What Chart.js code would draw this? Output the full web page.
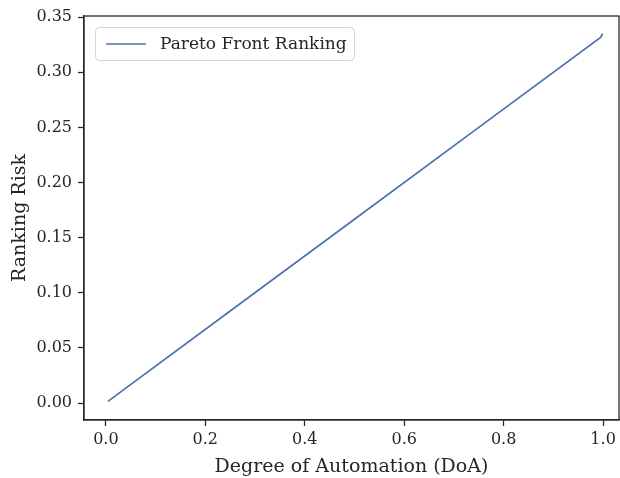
<!DOCTYPE html>
<html>
<head>
<meta charset="utf-8">
<script src="https://cdn.jsdelivr.net/npm/chart.js@4"></script>
<style>
  html, body { margin: 0; padding: 0; background: #fff; }
</style>
</head>
<body>
<canvas id="grafico" width="620" height="478"></canvas>
<script>
// dados
const doa = [0.004, 0.25, 0.5, 0.75, 0.995, 0.999];
const risco = [0.0015, 0.0835, 0.1667, 0.2500, 0.3315, 0.3350];
const xTicks = [0.0, 0.2, 0.4, 0.6, 0.8, 1.0];
const yTicks = [0.00, 0.05, 0.10, 0.15, 0.20, 0.25, 0.30, 0.35];
const nomeSerie = 'Pareto Front Ranking';

const fonte = '"DejaVu Serif", "Liberation Serif", serif';
const corEixo = '#262626';
const corLinha = '#4c72b0';

// moldura (spines de cima e da direita) + legenda
const extras = {
  id: 'extras',
  afterDraw(chart) {
    const { ctx, chartArea: a } = chart;
    ctx.save();
    ctx.strokeStyle = corEixo;
    ctx.lineWidth = 1.25;
    ctx.strokeRect(a.left, a.top, a.right - a.left, a.bottom - a.top);

    // legenda
    const lx = 95, ly = 27, lw = 259, lh = 33;
    ctx.fillStyle = 'rgba(255,255,255,0.8)';
    ctx.strokeStyle = '#d6d6d6';
    ctx.lineWidth = 1;
    ctx.beginPath();
    ctx.roundRect(lx + 0.5, ly + 0.5, lw, lh, 4);
    ctx.fill();
    ctx.stroke();
    ctx.strokeStyle = corLinha;
    ctx.lineWidth = 1.7;
    ctx.beginPath();
    ctx.moveTo(106, ly + lh / 2 + 0.5);
    ctx.lineTo(146, ly + lh / 2 + 0.5);
    ctx.stroke();
    ctx.fillStyle = corEixo;
    ctx.font = '17px ' + fonte;
    ctx.textBaseline = 'middle';
    ctx.fillText(chart.data.datasets[0].label, 160, ly + lh / 2 + 1);
    ctx.restore();
  }
};

new Chart(document.getElementById('grafico'), {
  type: 'line',
  data: {
    datasets: [{
      label: nomeSerie,
      data: doa.map((x, i) => ({ x: x, y: risco[i] })),
      borderColor: corLinha,
      borderWidth: 1.7,
      pointRadius: 0,
      tension: 0,
      fill: false
    }]
  },
  options: {
    responsive: false,
    animation: false,
    layout: { padding: { top: 16, right: 1, bottom: 0, left: 0 } },
    plugins: { legend: { display: false }, tooltip: { enabled: false } },
    scales: {
      x: {
        type: 'linear',
        min: -0.044,
        max: 1.032,
        afterBuildTicks: (s) => { s.ticks = xTicks.map(v => ({ value: v })); },
        afterFit: (s) => { s.height = 58; },
        grid: { drawOnChartArea: false, drawTicks: true, tickLength: 6, tickWidth: 1.25, tickColor: corEixo },
        border: { display: true, color: corEixo, width: 1.25 },
        ticks: {
          color: corEixo,
          padding: 4,
          maxRotation: 0,
          autoSkip: false,
          font: { family: fonte, size: 16 },
          callback: (v) => v.toFixed(1)
        },
        title: {
          display: true,
          text: 'Degree of Automation (DoA)',
          color: corEixo,
          font: { family: fonte, size: 19 },
          padding: { top: 0, bottom: 0 }
        }
      },
      y: {
        type: 'linear',
        min: -0.0154,
        max: 0.351,
        afterBuildTicks: (s) => { s.ticks = yTicks.map(v => ({ value: v })); },
        afterFit: (s) => { s.width = 84; },
        grid: { drawOnChartArea: false, drawTicks: true, tickLength: 6, tickWidth: 1.25, tickColor: corEixo },
        border: { display: true, color: corEixo, width: 1.25 },
        ticks: {
          color: corEixo,
          padding: 6,
          autoSkip: false,
          font: { family: fonte, size: 16 },
          callback: (v) => v.toFixed(2)
        },
        title: {
          display: true,
          text: 'Ranking Risk',
          color: corEixo,
          font: { family: fonte, size: 19 },
          padding: { top: 9, bottom: 0 }
        }
      }
    }
  },
  plugins: [extras]
});
</script>
</body>
</html>
